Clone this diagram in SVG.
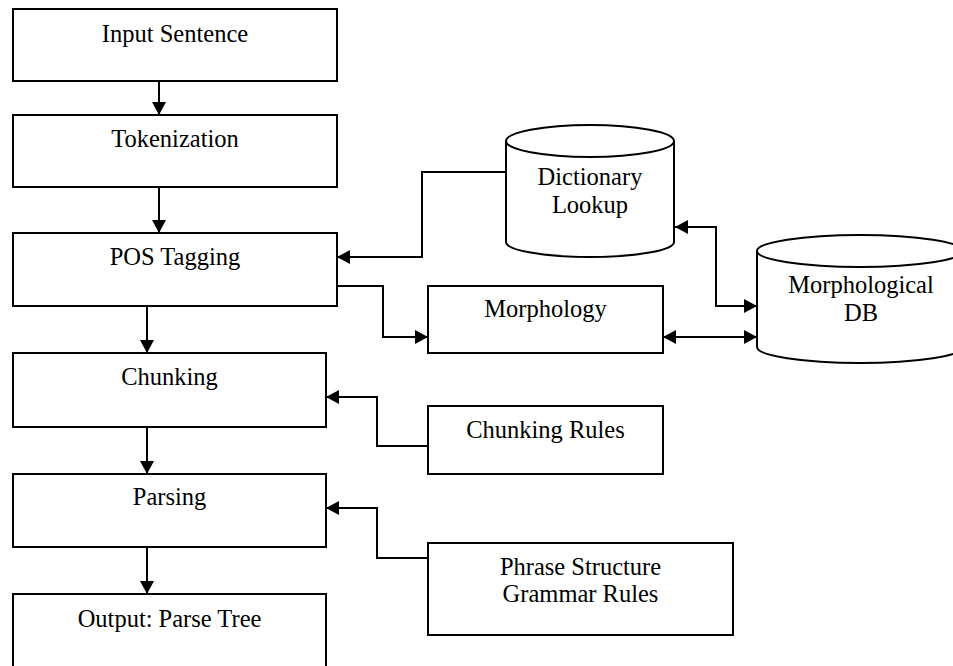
<svg xmlns="http://www.w3.org/2000/svg" width="953" height="666" viewBox="0 0 953 666">
<style>
.box{fill:#fff;stroke:#000;stroke-width:2}
.cyl{fill:#fff;stroke:#000;stroke-width:2}
.t{font-family:"Liberation Serif","Times New Roman",serif;font-size:24.5px;fill:#000;text-anchor:middle}
.c{fill:none;stroke:#000;stroke-width:2}
</style>
<defs>
<marker id="ah" markerUnits="userSpaceOnUse" markerWidth="14" markerHeight="14" refX="13" refY="7" orient="auto-start-reverse">
<path d="M0,0 L13,7 L0,14 z" fill="#000"/>
</marker>
</defs>
<rect width="953" height="666" fill="#fff"/>
<g id="input"><rect class="box" x="13" y="9" width="324" height="72"/><text class="t" x="175" y="42">Input Sentence</text></g>
<g id="tokenization"><rect class="box" x="13" y="115" width="324" height="72"/><text class="t" x="175" y="147">Tokenization</text></g>
<g id="pos"><rect class="box" x="13" y="233" width="324" height="73"/><text class="t" x="175" y="265">POS Tagging</text></g>
<g id="chunking"><rect class="box" x="13" y="353" width="313" height="74"/><text class="t" x="169.5" y="385">Chunking</text></g>
<g id="parsing"><rect class="box" x="13" y="474" width="313" height="73"/><text class="t" x="169.5" y="505">Parsing</text></g>
<g id="output"><rect class="box" x="13" y="594" width="313" height="80"/><text class="t" x="169.5" y="627">Output: Parse Tree</text></g>
<g id="morphology"><rect class="box" x="428" y="286" width="235" height="67"/><text class="t" x="545.5" y="317">Morphology</text></g>
<g id="chunkrules"><rect class="box" x="428" y="406" width="235" height="68"/><text class="t" x="545.5" y="438">Chunking Rules</text></g>
<g id="psg"><rect class="box" x="428" y="543" width="305" height="92"/><text class="t" x="580.5" y="575">Phrase Structure</text><text class="t" x="580.5" y="602">Grammar Rules</text></g>
<g id="dictionary">
<path class="cyl" d="M506,141 V242 A84,15 0 0 0 674,242 V141"/>
<ellipse class="cyl" cx="590" cy="141" rx="84" ry="16"/>
<text class="t" x="590" y="185">Dictionary</text><text class="t" x="590" y="213">Lookup</text>
</g>
<g id="morphdb">
<path class="cyl" d="M757,251 V347 A103,16 0 0 0 963,347 V251"/>
<ellipse class="cyl" cx="860" cy="251" rx="103" ry="16"/>
<text class="t" x="861" y="293">Morphological</text><text class="t" x="861" y="321">DB</text>
</g>
<g id="connectors">
<path class="c" d="M159,81 V115" marker-end="url(#ah)"/>
<path class="c" d="M159,187 V233" marker-end="url(#ah)"/>
<path class="c" d="M147,306 V353" marker-end="url(#ah)"/>
<path class="c" d="M147,427 V474" marker-end="url(#ah)"/>
<path class="c" d="M147,547 V594" marker-end="url(#ah)"/>
<path class="c" d="M506,172 H422 V257 H337" marker-end="url(#ah)"/>
<path class="c" d="M337,286 H383 V337 H428" marker-end="url(#ah)"/>
<path class="c" d="M675,227 H716 V306 H757" marker-start="url(#ah)" marker-end="url(#ah)"/>
<path class="c" d="M663,337 H757" marker-start="url(#ah)" marker-end="url(#ah)"/>
<path class="c" d="M428,446 H377 V397 H326" marker-end="url(#ah)"/>
<path class="c" d="M428,558 H377 V508 H326" marker-end="url(#ah)"/>
</g>
</svg>
